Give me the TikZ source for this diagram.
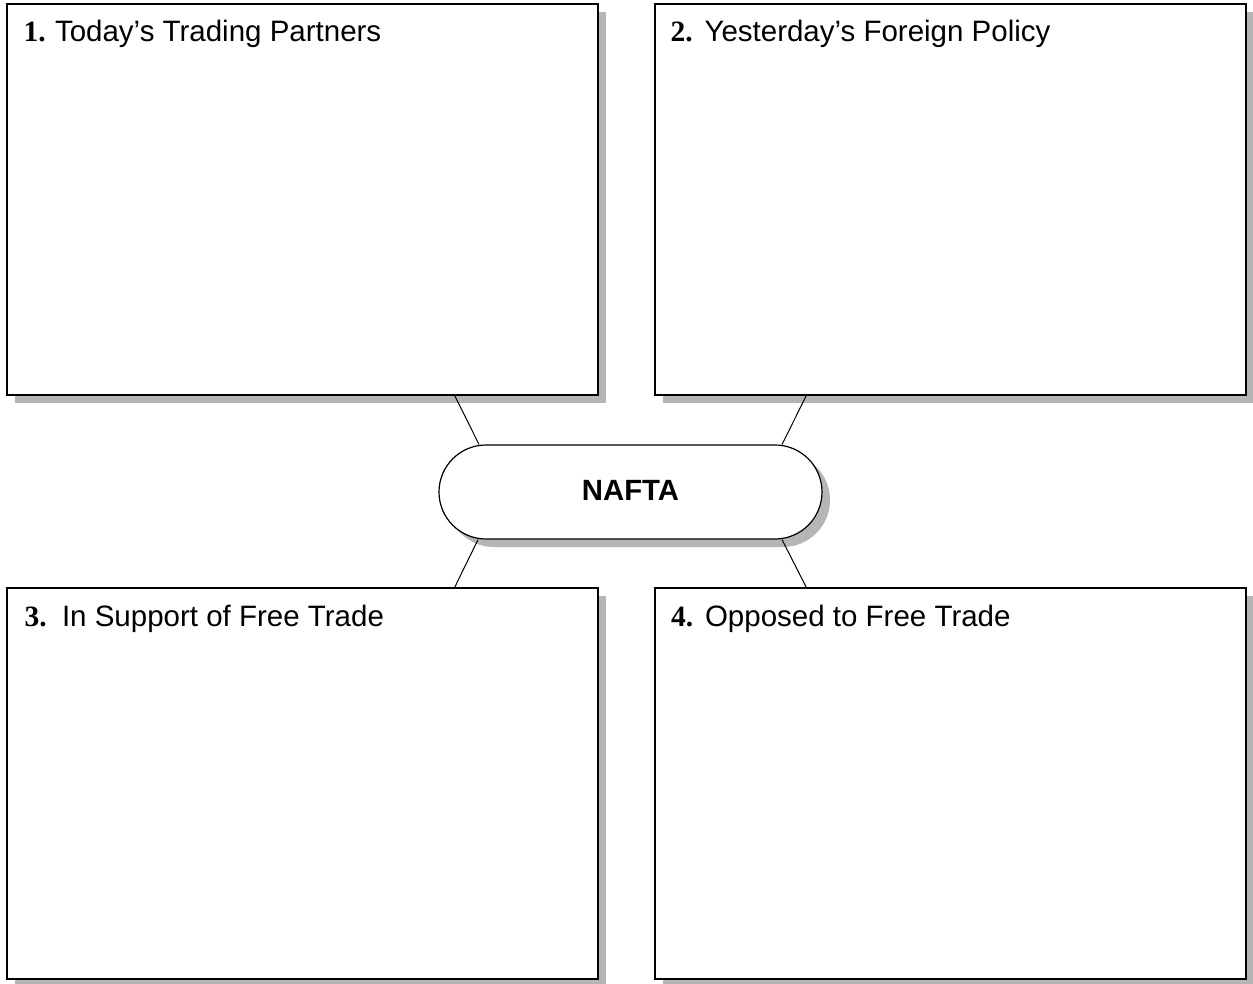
\documentclass[tikz,border=0pt]{standalone}
\usepackage{fontspec}
\setmainfont{Liberation Sans}
\newfontfamily\numfont{Liberation Serif}
\usetikzlibrary{shadows}
\definecolor{shadowgray}{gray}{0.71}
\begin{document}
\begin{tikzpicture}[x=1pt,y=-1pt,
  panel/.style={draw=black,line width=1.4pt,fill=white,minimum width=591pt,minimum height=391pt,inner sep=0pt,
    drop shadow={shadow xshift=8pt,shadow yshift=-8pt,fill=shadowgray,opacity=1}},
  hub/.style={draw=black,line width=1.2pt,fill=white,rounded corners=47pt,minimum width=383pt,minimum height=94pt,inner sep=0pt,
    font=\fontsize{29.3}{34}\selectfont\bfseries,
    drop shadow={shadow xshift=8pt,shadow yshift=-8pt,fill=shadowgray,opacity=1}},
  numlab/.style={anchor=base west,inner sep=0pt,font=\fontsize{29.5}{34}\selectfont\numfont\bfseries},
  titlab/.style={anchor=base west,inner sep=0pt,font=\fontsize{29.5}{34}\selectfont},
  link/.style={draw=black,line width=1pt}]
\useasboundingbox[fill=white] (0,0) rectangle (1253,983);
\node[panel] (b1) at (302.5,199.5) {};
\node[panel] (b2) at (950.5,199.5) {};
\node[panel] (b3) at (302.5,783.5) {};
\node[panel] (b4) at (950.5,783.5) {};
\node[hub] (hub) at (630.5,492) {\raisebox{3pt}{NAFTA}};
% labels
\node[numlab] (n1) at ([xshift=17pt,yshift=-38pt]b1.north west) {1.};
\node[titlab] (t1) at ([xshift=48.5pt,yshift=-38pt]b1.north west) {Today’s Trading Partners};
\node[numlab] (n2) at ([xshift=16pt,yshift=-38pt]b2.north west) {2.};
\node[titlab] (t2) at ([xshift=50pt,yshift=-38pt]b2.north west) {Yesterday’s Foreign Policy};
\node[numlab] (n3) at ([xshift=18pt,yshift=-39pt]b3.north west) {3.};
\node[titlab] (t3) at ([xshift=55.5pt,yshift=-39pt]b3.north west) {In Support of Free Trade};
\node[numlab] (n4) at ([xshift=16.5pt,yshift=-39pt]b4.north west) {4.};
\node[titlab] (t4) at ([xshift=50.5pt,yshift=-39pt]b4.north west) {Opposed to Free Trade};
% connectors
\draw[link] ([xshift=-144pt]b1.south east) -- ([xshift=-151.5pt]hub.north);
\draw[link] ([xshift=152pt]b2.south west) -- ([xshift=151.5pt]hub.north);
\draw[link] ([xshift=-144pt]b3.north east) -- ([xshift=-152.5pt]hub.south);
\draw[link] ([xshift=152pt]b4.north west) -- ([xshift=151.5pt]hub.south);
\end{tikzpicture}
\end{document}
